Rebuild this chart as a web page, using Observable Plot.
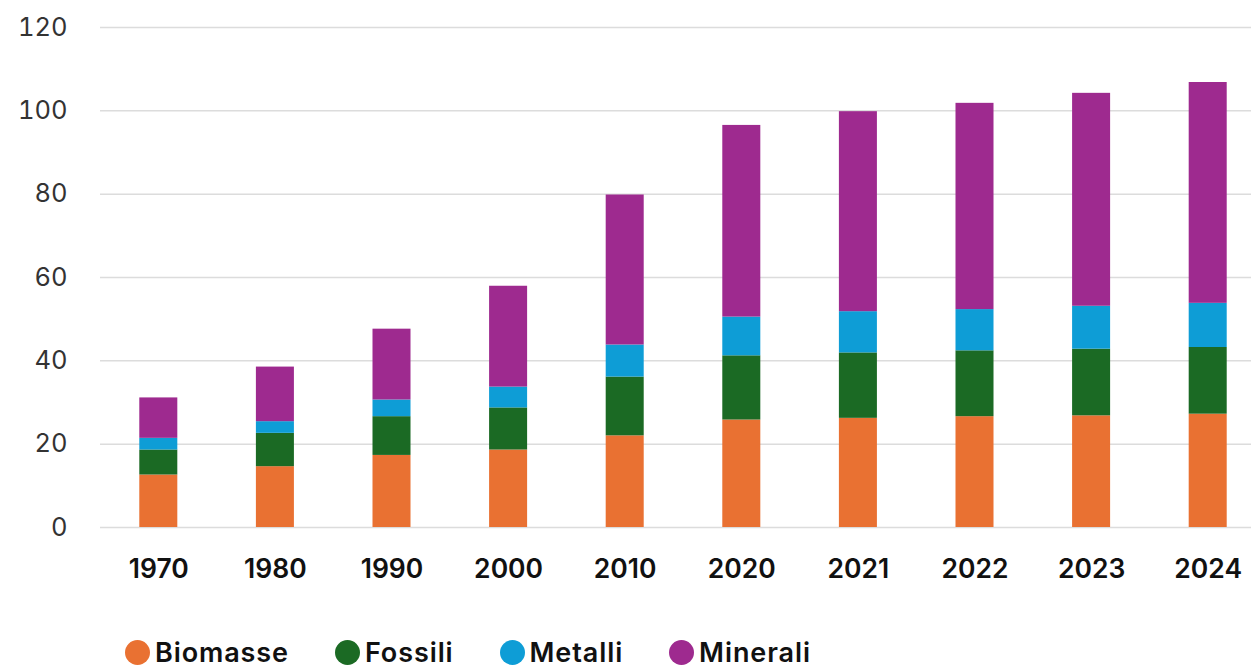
<!DOCTYPE html>
<html>
<head>
<meta charset="utf-8">
<script src="https://cdn.jsdelivr.net/npm/d3@7"></script>
<script src="https://cdn.jsdelivr.net/npm/@observablehq/plot@0.6"></script>
<style>
  html, body { margin: 0; padding: 0; background: #fff; overflow: hidden; }
  body { font-family: Inter, Lato, sans-serif; }
  #legend { display: flex; align-items: center; height: 27px; margin-top: 29px; padding-left: 125px; }
  .item { display: flex; align-items: center; height: 27px; line-height: 27px; font-size: 27px; font-weight: 600; letter-spacing: 0.9px; color: #111; margin-right: 46px; }
  .dot { width: 25px; height: 25px; border-radius: 50%; margin-right: 5px; }
</style>
</head>
<body>
<div id="chart"></div>
<div id="legend"></div>
<script>
// Years shown on the horizontal axis
const years = ["1970", "1980", "1990", "2000", "2010", "2020", "2021", "2022", "2023", "2024"];

// Material extraction by category
const biomasse = [12.6, 14.6, 17.3, 18.6, 22.0, 25.8, 26.2, 26.6, 26.8, 27.2];
const fossili  = [6.0, 8.0, 9.3, 10.1, 14.1, 15.4, 15.7, 15.8, 16.0, 16.0];
const metalli  = [2.8, 2.8, 4.0, 5.0, 7.7, 9.3, 9.9, 9.9, 10.3, 10.6];
const minerali = [9.7, 13.1, 17.0, 24.2, 36.0, 46.0, 48.0, 49.5, 51.1, 53.0];

const categories = ["Biomasse", "Fossili", "Metalli", "Minerali"];
const colors = ["#E97132", "#1B6A24", "#0E9DD6", "#9E2A8F"];
const yTicks = [0, 20, 40, 60, 80, 100, 120];

const series = [biomasse, fossili, metalli, minerali];
const rows = [];
categories.forEach((cat, i) => {
  years.forEach((year, j) => rows.push({year, category: cat, value: series[i][j]}));
});

const chart = Plot.plot({
  width: 1251,
  height: 610,
  marginLeft: 100,
  marginRight: -15,
  marginTop: 27,
  marginBottom: 83,
  style: {fontFamily: "Inter, Lato, sans-serif", background: "#fff", overflow: "visible"},
  x: {domain: years, paddingInner: 0.674, paddingOuter: 0.337, round: false, label: null},
  y: {domain: [0, 120], label: null},
  color: {domain: categories, range: colors},
  marks: [
    Plot.gridY(yTicks, {stroke: "#dcdcdc", strokeOpacity: 1, strokeWidth: 1.5}),
    Plot.barY(rows, {x: "year", y: "value", fill: "category", order: categories}),
    Plot.axisY(yTicks, {tickSize: 0, tickPadding: 33, fontSize: 25.5, fill: "#333", label: null}),
    Plot.axisX({tickSize: 0, tickPadding: 32, fontSize: 26.5, fontWeight: 600, fill: "#111", label: null})
  ]
});
document.getElementById("chart").appendChild(chart);

const legend = document.getElementById("legend");
categories.forEach((cat, i) => {
  const item = document.createElement("div");
  item.className = "item";
  const dot = document.createElement("span");
  dot.className = "dot";
  dot.style.background = colors[i];
  item.appendChild(dot);
  item.appendChild(document.createTextNode(cat));
  legend.appendChild(item);
});
</script>
</body>
</html>
